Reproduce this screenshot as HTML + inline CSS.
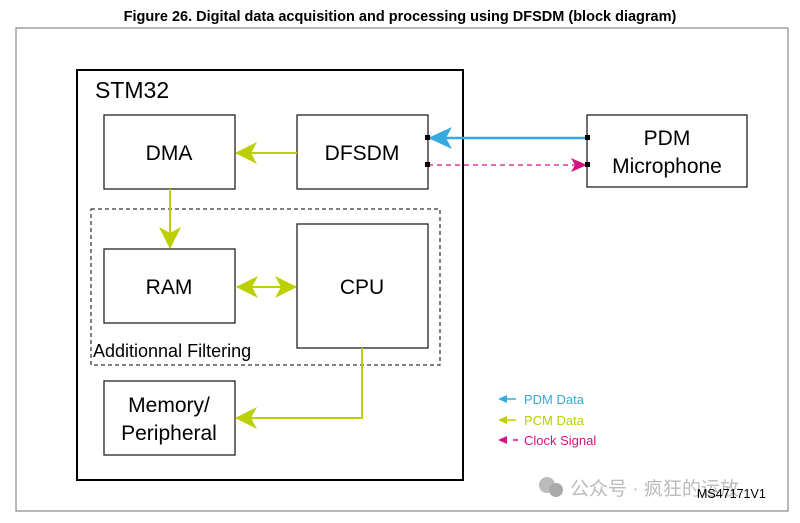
<!DOCTYPE html>
<html><head><style>
body{margin:0;background:#fff;width:800px;height:518px;overflow:hidden}
svg text{font-family:"Liberation Sans",Arial,sans-serif}
</style></head><body>
<svg width="800" height="518" viewBox="0 0 800 518" xmlns="http://www.w3.org/2000/svg">
<defs>
<marker id="gb" markerWidth="22" markerHeight="22" refX="21" refY="11" orient="auto-start-reverse" markerUnits="userSpaceOnUse"><path d="M0,0 L22,11 L0,22 L6,11 Z" fill="#bccf00"/></marker>
<marker id="b" markerWidth="24" markerHeight="22" refX="23" refY="11" orient="auto" markerUnits="userSpaceOnUse"><path d="M0,0 L24,11 L0,22 L6,11 Z" fill="#36a9e1"/></marker>
<marker id="p" markerWidth="16" markerHeight="14" refX="15" refY="7" orient="auto" markerUnits="userSpaceOnUse"><path d="M0,0 L16,7 L0,14 L4,7 Z" fill="#d6127d"/></marker>
</defs>
<text x="400" y="21" text-anchor="middle" font-size="14.5" font-weight="bold">Figure 26. Digital data acquisition and processing using DFSDM (block diagram)</text>
<rect x="16" y="28" width="772" height="483" fill="none" stroke="#888" stroke-width="1.2"/>
<rect x="77" y="70" width="386" height="410" fill="none" stroke="#000" stroke-width="2"/>
<text x="95" y="98" font-size="23">STM32</text>
<rect x="91" y="209" width="349" height="156" fill="none" stroke="#000" stroke-width="1" stroke-dasharray="4,3"/>
<text x="93" y="357" font-size="18">Additionnal Filtering</text>
<g fill="#fff" stroke="#222" stroke-width="1.3">
<rect x="104" y="115" width="131" height="74"/>
<rect x="297" y="115" width="131" height="74"/>
<rect x="104" y="249" width="131" height="74"/>
<rect x="297" y="224" width="131" height="124"/>
<rect x="104" y="381" width="131" height="74"/>
<rect x="587" y="115" width="160" height="72"/>
</g>
<g font-size="21" text-anchor="middle">
<text x="169" y="160">DMA</text>
<text x="362" y="160">DFSDM</text>
<text x="169" y="294">RAM</text>
<text x="362" y="294">CPU</text>
<text x="169" y="412">Memory/</text>
<text x="169" y="440">Peripheral</text>
<text x="667" y="145">PDM</text>
<text x="667" y="173">Microphone</text>
</g>
<g stroke="#bccf00" stroke-width="2" fill="none">
<line x1="297" y1="153" x2="236" y2="153" marker-end="url(#gb)"/>
<line x1="170" y1="189" x2="170" y2="248" marker-end="url(#gb)"/>
<line x1="237" y1="287" x2="296" y2="287" marker-start="url(#gb)" marker-end="url(#gb)"/>
<polyline points="362,348 362,418 236,418" marker-end="url(#gb)"/>
</g>
<line x1="587" y1="138" x2="429" y2="138" stroke="#36a9e1" stroke-width="2.5" marker-end="url(#b)"/>
<line x1="428" y1="165" x2="586" y2="165" stroke="#d6127d" stroke-width="1.2" stroke-dasharray="5,4" marker-end="url(#p)"/>
<g fill="#000"><rect x="425" y="135" width="5" height="5"/><rect x="425" y="162" width="5" height="5"/><rect x="585" y="135" width="5" height="5"/><rect x="585" y="162" width="5" height="5"/></g>
<g font-size="13">
<path d="M498,399 L507,395 L507,403 Z" fill="#36a9e1"/><line x1="505" y1="399" x2="516" y2="399" stroke="#36a9e1" stroke-width="1.5"/>
<text x="524" y="404" fill="#36a9e1">PDM Data</text>
<path d="M498,420 L507,416 L507,424 Z" fill="#bccf00"/><line x1="505" y1="420" x2="516" y2="420" stroke="#bccf00" stroke-width="1.5"/>
<text x="524" y="425" fill="#bccf00">PCM Data</text>
<path d="M498,440 L507,436 L507,444 Z" fill="#d6127d"/><line x1="513" y1="440" x2="518" y2="440" stroke="#d6127d" stroke-width="1.5"/>
<text x="524" y="445" fill="#d6127d">Clock Signal</text>
</g>
<text x="570" y="495" font-size="19" fill="#bbb" font-family="'Liberation Sans','Noto Sans CJK SC',sans-serif">公众号 · 疯狂的运放</text>
<circle cx="547" cy="485" r="8" fill="#bbb"/><circle cx="556" cy="490" r="7" fill="#aaa"/>
<text x="697" y="498" font-size="12.5">MS47171V1</text>
</svg>
</body></html>
